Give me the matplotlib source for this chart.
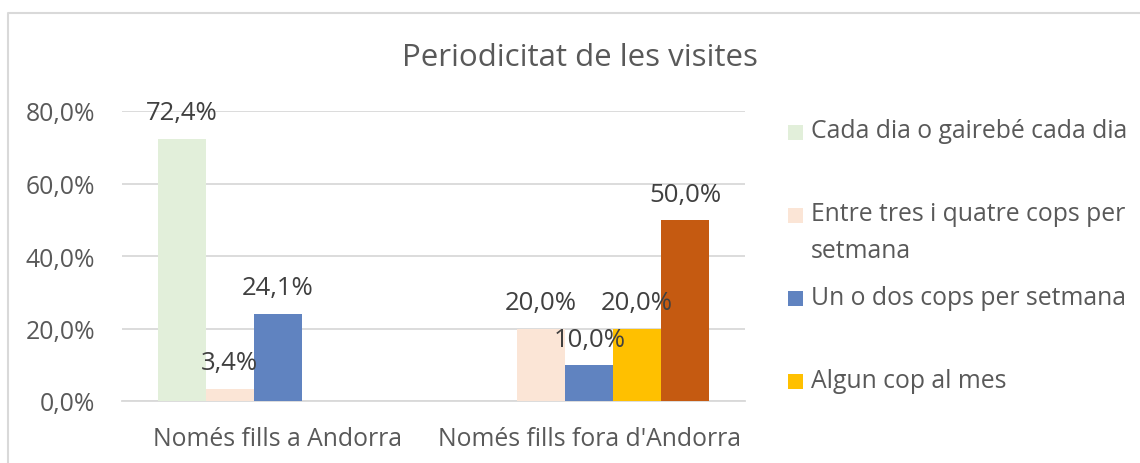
import numpy as np
import matplotlib.pyplot as plt
from matplotlib.patches import Rectangle
from matplotlib.ticker import FuncFormatter

plt.rcParams['font.family'] = ['Open Sans', 'DejaVu Sans']

# data
categories = ["Només fills a Andorra", "Només fills fora d'Andorra"]
series_names = ["Cada dia o gairebé cada dia",
                "Entre tres i quatre cops per\nsetmana",
                "Un o dos cops per setmana",
                "Algun cop al mes",
                "Menys sovint"]
cada_dia = [72.4, np.nan]
tres_quatre = [3.4, 20.0]
un_dos = [24.1, 10.0]
algun_mes = [np.nan, 20.0]
menys = [np.nan, 50.0]
values = [cada_dia, tres_quatre, un_dos, algun_mes, menys]
colors = ['#E2EFDA', '#FBE5D6', '#6083C0', '#FFC000', '#C55A11']
n_legend = 4  # last entry is cut off in the original

W, H = 1140, 464
fig = plt.figure(figsize=(W/100, H/100), dpi=100)
ax = fig.add_axes([122/W, 62/H, (745-122)/W, (402-112)/H])

TXT = '#595959'
LBL = '#404040'
FS = 17.8
w = 48/311.5
x = np.arange(len(categories))
for i, (vals, c) in enumerate(zip(values, colors)):
    xs = x + (i-2)*w
    ax.bar(xs, vals, width=w, color=c, zorder=3)
    for xi, v in zip(xs, vals):
        if np.isnan(v):
            continue
        ax.annotate(('%.1f%%' % v).replace('.', ','), xy=(xi, v), xytext=(0, 18.5),
                    textcoords='offset points', ha='center', va='center',
                    fontsize=18.5, color=LBL, zorder=5)

ax.set_xlim(-0.5, 1.5)
ax.set_ylim(0, 80)
ax.set_yticks(np.arange(0, 81, 20))
ax.yaxis.set_major_formatter(FuncFormatter(lambda v, p: ('%.1f%%' % v).replace('.', ',')))
ax.set_xticks(x)
ax.set_xticklabels(categories)
ax.tick_params(axis='both', length=0, labelsize=FS, colors=TXT)
ax.tick_params(axis='y', pad=19.5)
ax.tick_params(axis='x', pad=18)
ax.grid(axis='y', color='#D9D9D9', linewidth=1.3, zorder=0)
for s in ['top', 'right', 'left']:
    ax.spines[s].set_visible(False)
ax.spines['bottom'].set_color('#D9D9D9')
ax.spines['bottom'].set_linewidth(1.3)

fig.text(580/W, 1-58/H, "Periodicitat de les visites", ha='center', va='center',
         fontsize=22.5, color=TXT)

# legend drawn by hand (Excel-like spacing)
for i in range(n_legend):
    yc = 133 + i*83.3
    fig.patches.append(Rectangle((788/W, 1-(yc+7.5)/H), 15/W, 15/H,
                                 facecolor=colors[i], edgecolor='none',
                                 transform=fig.transFigure, figure=fig))
    fig.text(811/W, 1-(yc-14)/H, series_names[i], ha='left', va='top',
             fontsize=FS, color=TXT, linespacing=1.6)

# chart border
fig.add_artist(plt.Line2D([7.5/W, 7.5/W, 1], [0, 1-13.5/H, 1-13.5/H],
                          color='#D9D9D9', linewidth=1.5, transform=fig.transFigure))

fig.savefig('out.png', dpi=100)
